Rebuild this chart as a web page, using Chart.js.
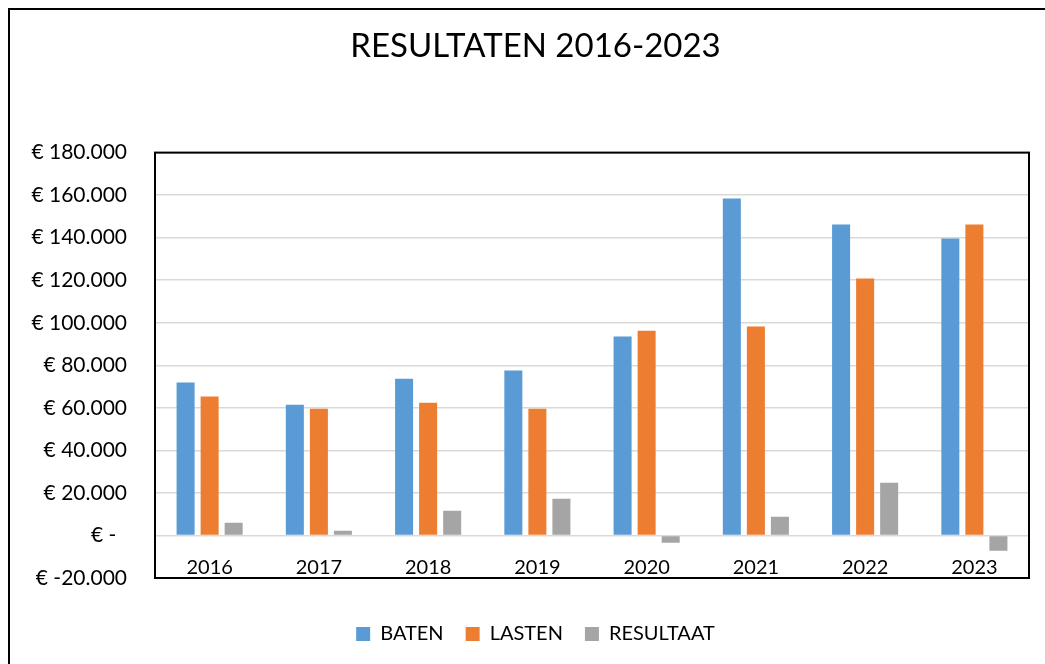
<!DOCTYPE html>
<html>
<head>
<meta charset="utf-8">
<title>Resultaten 2016-2023</title>
<script src="https://cdn.jsdelivr.net/npm/chart.js@4.4.1/dist/chart.umd.min.js"></script>
<style>
  html, body { margin: 0; padding: 0; background: #fff; overflow: hidden; }
  #frame { position: absolute; left: 8px; top: 8px; width: 1200px; height: 800px; border: 2px solid #000; }
  #wrap { position: absolute; left: 0; top: 0; width: 1045px; height: 664px; }
</style>
</head>
<body>
<div id="frame"></div>
<div id="wrap"><canvas id="chart"></canvas></div>
<script>
const years = ['2016', '2017', '2018', '2019', '2020', '2021', '2022', '2023'];
const baten = [71900, 61500, 73700, 77500, 93500, 158400, 146200, 139600];
const lasten = [65300, 59600, 62400, 59600, 96300, 98200, 120800, 146200];
const resultaat = [6000, 2200, 11600, 17300, -3400, 8800, 24800, -7200];

const FONT = 'Lato, "Open Sans", sans-serif';

const euro = (v) => {
  if (v === 0) return '€ -  ';
  const s = Math.abs(v).toString().replace(/\B(?=(\d{3})+(?!\d))/g, '.');
  return '€ ' + (v < 0 ? '-' : '') + s;
};

// black frame round the plot area
const plotBox = {
  id: 'plotBox',
  afterDraw(chart) {
    const { ctx, chartArea: a } = chart;
    ctx.save();
    ctx.strokeStyle = '#000';
    ctx.lineWidth = 2;
    ctx.strokeRect(a.left, a.top, a.right - a.left, a.bottom - a.top);
    ctx.restore();
  }
};

new Chart(document.getElementById('chart'), {
  type: 'bar',
  data: {
    labels: years,
    datasets: [
      { label: 'BATEN', data: baten, backgroundColor: '#5b9bd5' },
      { label: 'LASTEN', data: lasten, backgroundColor: '#ed7d31' },
      { label: 'RESULTAAT', data: resultaat, backgroundColor: '#a5a5a5' }
    ]
  },
  options: {
    responsive: true,
    maintainAspectRatio: false,
    animation: false,
    datasets: { bar: { categoryPercentage: 0.66, barPercentage: 0.75, borderWidth: 0 } },
    layout: { padding: { left: 26, right: 0, top: 0, bottom: 10 } },
    plugins: {
      title: {
        display: true,
        text: 'RESULTATEN 2016-2023',
        color: '#000',
        font: { family: FONT, size: 33, weight: 'normal' },
        padding: { top: 27, bottom: 86 }
      },
      legend: {
        position: 'bottom',
        title: { display: true, text: '', font: { size: 10 }, padding: { top: 12, bottom: 0 } },
        labels: {
          color: '#000',
          font: { family: FONT, size: 20 },
          boxWidth: 14,
          boxHeight: 14,
          padding: 22
        }
      },
      tooltip: { enabled: false }
    },
    scales: {
      x: {
        position: { y: 0 },
        grid: { display: false, drawTicks: false },
        border: { display: false },
        ticks: { color: '#000', font: { family: FONT, size: 20 }, padding: 20 }
      },
      y: {
        min: -20000,
        max: 180000,
        afterFit(scale) { scale.width = 129; },
        grid: { color: '#d9d9d9', lineWidth: 1.5, drawTicks: false },
        border: { display: false },
        ticks: {
          stepSize: 20000,
          color: '#000',
          font: { family: FONT, size: 21 },
          padding: 28,
          callback: (v) => euro(v)
        }
      },
      // empty strip on the right so title and legend centre like the original
      yRight: {
        position: 'right',
        afterFit(scale) { scale.width = 16; },
        grid: { display: false, drawTicks: false },
        border: { display: false },
        ticks: { display: false }
      }
    }
  },
  plugins: [plotBox]
});
</script>
</body>
</html>
